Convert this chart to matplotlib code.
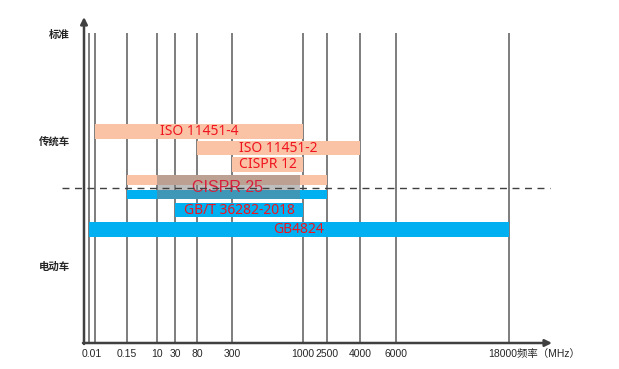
import numpy as np
import matplotlib
matplotlib.use('Agg')
import matplotlib.pyplot as plt

plt.rcParams['font.family'] = ['Liberation Sans', 'Noto Sans CJK SC', 'DejaVu Sans']

# frequency grid lines (MHz) and the labels written under them
freqs = [0.009, 0.01, 0.15, 10, 30, 80, 300, 1000, 2500, 4000, 6000, 18000]
freq_labels = ['', '0.01', '0.15', '10', '30', '80', '300', '1000', '2500', '4000', '6000', '18000频率（MHz）']

# standards: name, start freq, end freq, group
std_names = ['ISO 11451-4', 'ISO 11451-2', 'CISPR 12', 'CISPR 25', 'CISPR 25', 'GB/T 36282-2018', 'GB4824']
std_start = [0.01, 80, 300, 0.15, 0.15, 30, 0.009]
std_end = [1000, 4000, 1000, 2500, 2500, 1000, 18000]
std_group = ['传统车', '传统车', '传统车', '传统车', '电动车', '电动车', '电动车']
show_label = [True, True, True, False, False, True, True]

# highlighted range of CISPR 25 (MHz)
highlight = (10, 950)

row_labels = ['标准', '传统车', '电动车']

# ---- layout (axes units, roughly pixels from the origin) ----
line_x = [5, 11, 43, 73, 91, 113, 148, 219, 243, 276, 312, 425]
bar_y = [(204, 219), (188, 202), (171, 186), (158, 168), (144, 153), (126, 140), (106, 121)]
row_y = [308, 201, 76]
salmon = '#FBC3A6'
blue = '#00B0F0'
red = '#F0141E'
axis_col = '#404040'
txt_col = '#262626'


def fx(f):
    # piecewise mapping of a frequency onto the drawn grid
    return np.interp(np.log10(f), np.log10(freqs), line_x)


fig = plt.figure(figsize=(6.19, 3.69), dpi=100)
ax = fig.add_axes([84 / 619, 26 / 369, 466 / 619, 323 / 369])
ax.set_xlim(0, 466)
ax.set_ylim(0, 323)
ax.axis('off')

# vertical frequency lines
for x in line_x:
    ax.plot([x, x], [0, 310], color='#5a5a5a', lw=1.1, zorder=1, solid_capstyle='butt')

# bars
for i, name in enumerate(std_names):
    x0, x1 = fx(std_start[i]), fx(std_end[i])
    y0, y1 = bar_y[i]
    col = salmon if std_group[i] == '传统车' else blue
    ax.fill_between([x0, x1], y0, y1, color=col, lw=0, zorder=2)
    if show_label[i]:
        ax.text((x0 + x1) / 2, (y0 + y1) / 2, name, color=red, fontsize=10,
                family=['Noto Sans'], ha='center', va='center', zorder=3)

# grey highlight over CISPR 25
hx0, hx1 = fx(highlight[0]), fx(highlight[1])
ax.fill_between([hx0, hx1], bar_y[4][0], bar_y[3][1], color='#7f7f7f', alpha=0.5, lw=0, zorder=4)
ax.text((fx(std_start[3]) + fx(std_end[3])) / 2, 155, 'CISPR 25', color='#D8203C',
        fontsize=11.5, ha='center', va='center', zorder=5)

# dashed separator
ax.plot([-22, 466], [155, 155], color=axis_col, lw=1, ls=(0, (5, 4)), zorder=6, clip_on=False)

# axes with arrows
ax.annotate('', xy=(0, 326), xytext=(0, -1), annotation_clip=False,
            arrowprops=dict(arrowstyle='-|>', lw=1.8, color=axis_col, mutation_scale=10, shrinkA=0, shrinkB=0))
ax.annotate('', xy=(468, 0), xytext=(-1, 0), annotation_clip=False,
            arrowprops=dict(arrowstyle='-|>', lw=1.8, color=axis_col, mutation_scale=10, shrinkA=0, shrinkB=0))

# frequency labels
for x, lab in zip(line_x, freq_labels):
    if lab == '':
        continue
    if lab == '0.01':
        ax.text(x - 3, -11, lab, fontsize=7.5, color=txt_col, ha='center', va='center')
    elif lab.startswith('18000'):
        ax.text(x - 21, -11, lab, fontsize=7.5, color=txt_col, ha='left', va='center')
    else:
        ax.text(x, -11, lab, fontsize=7.5, color=txt_col, ha='center', va='center')

# row labels
for lab, y in zip(row_labels, row_y):
    ax.text(-14, y, lab, fontsize=7.5, color=txt_col, ha='right', va='center',
            family=['Noto Sans CJK SC'], fontweight='bold')

fig.savefig('out.png', dpi=100)
